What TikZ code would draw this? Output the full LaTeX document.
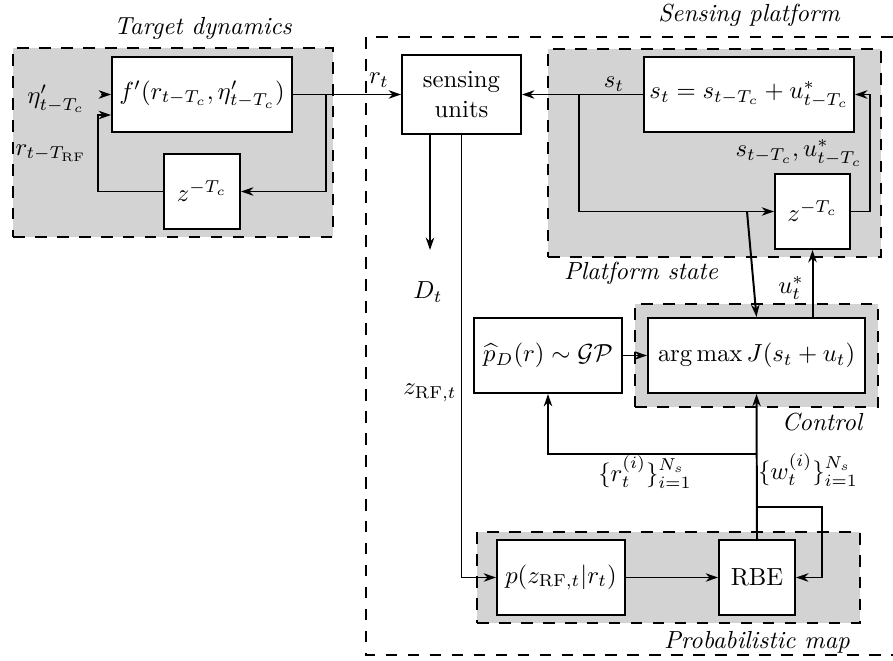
\documentclass[tikz,border=0pt]{standalone}
\usepackage{amsmath,amssymb}
\usetikzlibrary{positioning,arrows.meta,calc}
\definecolor{shade}{RGB}{211,211,211}
\begin{document}
\begin{tikzpicture}[x=0.405pt,y=-0.405pt,>={Stealth[length=5pt,width=3.4pt]},thick,
    wh/.style 2 args={minimum width=#1*0.405pt,minimum height=#2*0.405pt},
    box/.style={draw,fill=white,align=center,inner sep=2pt},
    grp/.style={draw,fill=shade,dash pattern=on 4.7pt off 4.2pt,inner sep=0pt},
    tag/.style={font=\itshape,inner sep=1pt}]
    \useasboundingbox (0,0) rectangle (893,660);
    \draw[dash pattern=on 4.7pt off 4.2pt] (893,37) -- (366,37) -- (366,655) -- (893,655);
    \node[grp,wh={320}{189}] (td) at (173,142.5) {};
    \node[grp,wh={333}{208}] (ps) at (714.5,153) {};
    \node[grp,wh={243}{103}] (ct) at (756.5,355.5) {};
    \node[grp,wh={383}{91}] (pm) at (668.5,577.5) {};
    \node[box,wh={180}{75}] (fp) at (202,94.5) {$f'(r_{t-T_c},\eta'_{t-T_c})$};
    \node[box,wh={76}{75}] (zt) at (202,191.5) {$z^{-T_c}$};
    \node[box,wh={119}{79}] (su) at (461.5,94.5) {sensing\\units};
    \node[box,wh={210}{75}] (se) at (749,94.5) {$s_t=s_{t-T_c}+u^*_{t-T_c}$};
    \node[box,wh={75}{75}] (zp) at (812.5,211.5) {$z^{-T_c}$};
    \node[box,wh={217}{75}] (am) at (756.5,355.5) {$\arg\max J(s_t+u_t)$};
    \node[box,wh={148}{75}] (pd) at (548,355.5) {$\widehat{p}_D(r)\sim\mathcal{GP}$};
    \node[box,wh={128}{75}] (pz) at (561,577.5) {$p(z_{\mathrm{RF},t}|r_t)$};
    \node[box,wh={76}{75}] (rb) at (757,577.5) {RBE};
    \node[tag] (tdl) at (203,28) {Target dynamics};
    \node[tag] (spl) at (749,15) {Sensing platform};
    \node[tag] (psl) at (641,273) {Platform state};
    \node[tag] (ctl) at (822,422) {Control};
    \node[tag] (pml) at (757,642) {Probabilistic map};
    \node (eta) at (56,99) {$\eta'_{t-T_c}$};
    \node (rtrf) at (51,153) {$r_{t-T_{\mathrm{RF}}}$};
    \node (rt) at (379,80) {$r_t$};
    \node (st) at (614,84) {$s_t$};
    \node (sdel) at (799,153) {$s_{t-T_c},u^*_{t-T_c}$};
    \node (ut) at (791,288) {$u^*_t$};
    \node (dtl) at (428,292) {$D_t$};
    \node (zrf) at (430,393) {$z_{\mathrm{RF},t}$};
    \node (rset) at (645,472) {$\{r_t^{(i)}\}_{i=1}^{N_s}$};
    \node (wset) at (808,470) {$\{w_t^{(i)}\}_{i=1}^{N_s}$};
    \coordinate (fb) at (98,115);
    \coordinate (sb) at (579,94.5);
    \coordinate (sc) at (747,211.5);
    \coordinate (dt) at (430,250);
    \coordinate (rl) at (757,507);
    \coordinate (rr) at (757,454);
    \draw[->,shorten <=3pt] (eta.east |- fp.west) -- (fp.west);
    \draw[->] (fp) -- (su);
    \draw[->] (fp.east) -- ++(33,0) |- (zt.east);
    \draw[->] (zt.west) -| (fb) -- (fb -| fp.west);
    \draw[->] (se) -- (su);
    \draw[->] (sb) |- (zp.west);
    \draw[->] (zp.east) -- ++(19,0) |- (se.east);
    \draw[->] (am.north -| zp.south) -- (zp.south);
    \draw[->] (sc) -- (am.north);
    \draw[->] (pd) -- (am);
    \draw[->] (su.south -| dt) -- (dt);
    \draw[->] (su.south) |- (pz.west);
    \draw[->] (pz) -- (rb);
    \draw[->] (rb.north) -- (am.south);
    \draw[->] (rl) -- ++(65,0) |- (rb.east);
    \draw[->] (rr) -| (pd.south);
\end{tikzpicture}
\end{document}
